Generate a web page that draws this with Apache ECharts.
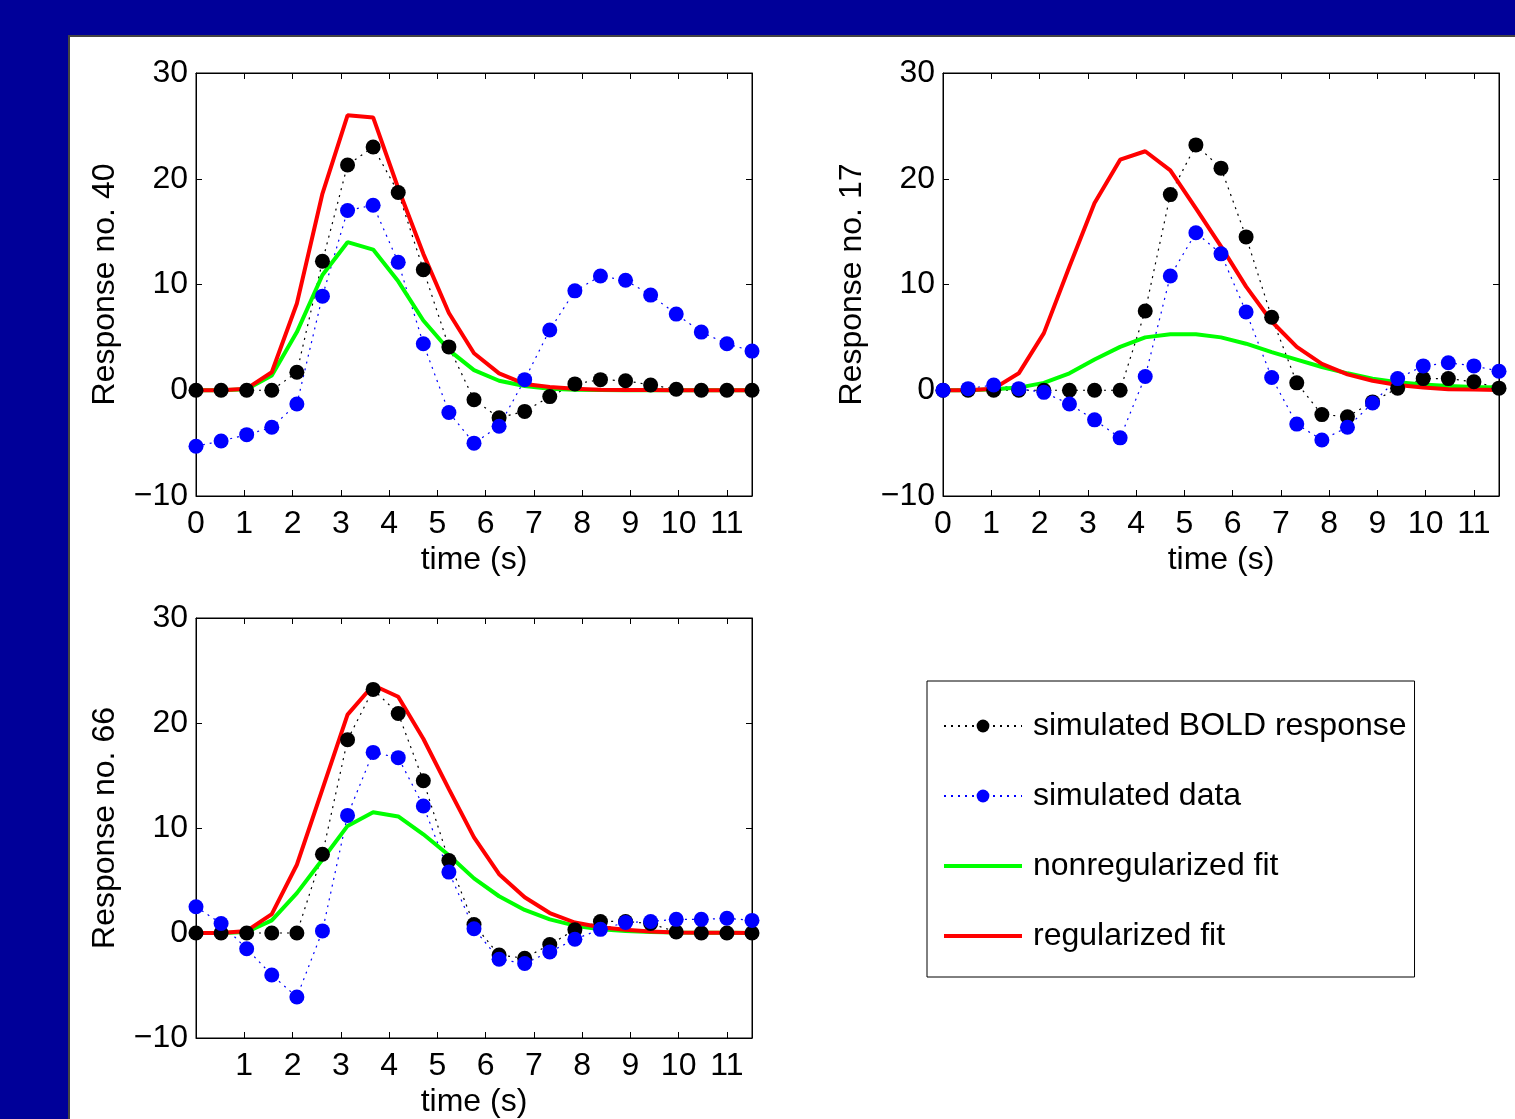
<!DOCTYPE html>
<html>
<head>
<meta charset="utf-8">
<script src="https://cdn.jsdelivr.net/npm/echarts@6/dist/echarts.min.js"></script>
<style>
  html, body { margin: 0; padding: 0; background: #000099; }
  #chart { width: 1515px; height: 1119px; }
</style>
</head>
<body>
<div id="chart"></div>
<script>
// sample times (s)
const timeSec = [0, 0.52, 1.05, 1.57, 2.09, 2.62, 3.14, 3.67, 4.19, 4.71, 5.24, 5.76,
  6.28, 6.81, 7.33, 7.85, 8.38, 8.9, 9.42, 9.95, 10.47, 11.0, 11.52]
const yTicks = [-10, 0, 10, 20, 30]
const seriesNames = ['simulated BOLD response', 'simulated data', 'nonregularized fit', 'regularized fit']

// Response no. 40
const bold40 = [0, 0, 0, 0, 1.7, 12.2, 21.3, 23.0, 18.7, 11.4, 4.1, -0.9, -2.6, -2.0, -0.6, 0.6, 1.0, 0.9, 0.5, 0.1, 0, 0, 0]
const data40 = [-5.3, -4.8, -4.2, -3.5, -1.3, 8.9, 17.0, 17.5, 12.1, 4.4, -2.1, -5.0, -3.4, 1.0, 5.7, 9.4, 10.8, 10.4, 9.0, 7.2, 5.5, 4.4, 3.7]
const nonreg40 = [0, 0, 0.1, 1.4, 5.5, 10.9, 14.0, 13.3, 10.3, 6.6, 3.8, 1.9, 0.9, 0.4, 0.15, 0.05, 0.02, 0, 0, 0, 0, 0, 0]
const reg40 = [0, 0, 0.15, 1.7, 8.2, 18.6, 26.0, 25.8, 19.1, 12.9, 7.3, 3.5, 1.6, 0.6, 0.3, 0.15, 0.05, 0.03, 0.02, 0.01, 0, 0, 0]

// Response no. 17
const bold17 = [0, 0, 0, 0, 0, 0, 0, 0, 7.5, 18.5, 23.2, 21.0, 14.5, 6.9, 0.7, -2.3, -2.5, -1.1, 0.2, 1.1, 1.1, 0.8, 0.2]
const data17 = [0, 0.15, 0.5, 0.15, -0.2, -1.3, -2.8, -4.5, 1.3, 10.8, 14.9, 12.9, 7.4, 1.2, -3.2, -4.7, -3.5, -1.2, 1.1, 2.3, 2.6, 2.3, 1.8]
const nonreg17 = [0, 0, 0.1, 0.25, 0.7, 1.6, 2.9, 4.1, 5.0, 5.3, 5.3, 5.0, 4.4, 3.6, 2.9, 2.2, 1.6, 1.1, 0.75, 0.55, 0.4, 0.3, 0.25]
const reg17 = [0, 0, 0.15, 1.6, 5.4, 11.7, 17.7, 21.8, 22.6, 20.8, 17.2, 13.6, 9.8, 6.5, 4.1, 2.5, 1.5, 0.9, 0.5, 0.25, 0.1, 0.06, 0.03]

// Response no. 66
const bold66 = [0, 0, 0, 0, 0, 7.5, 18.4, 23.2, 20.9, 14.5, 6.9, 0.8, -2.1, -2.4, -1.1, 0.3, 1.1, 1.1, 0.9, 0.1, 0, 0, 0]
const data66 = [2.5, 0.9, -1.5, -4.0, -6.1, 0.2, 11.2, 17.2, 16.7, 12.1, 5.8, 0.4, -2.5, -2.9, -1.8, -0.6, 0.35, 1.0, 1.1, 1.3, 1.3, 1.4, 1.2]
const nonreg66 = [0, 0, 0.1, 1.2, 3.8, 7.0, 10.2, 11.5, 11.1, 9.4, 7.4, 5.2, 3.5, 2.2, 1.3, 0.7, 0.35, 0.2, 0.1, 0.05, 0.03, 0.02, 0.01]
const reg66 = [0, 0, 0.2, 1.8, 6.5, 13.7, 20.8, 23.6, 22.5, 18.5, 13.7, 9.1, 5.6, 3.4, 1.9, 1.0, 0.55, 0.3, 0.15, 0.05, 0.03, 0.02, 0.01]

const FONT = 'Liberation Sans, Arial, Helvetica, sans-serif'
const FS = 32

const panels = [
  { title: 'Response no. 40', left: 196, top: 73, showZero: true, values: [bold40, data40, nonreg40, reg40] },
  { title: 'Response no. 17', left: 943, top: 73, showZero: true, values: [bold17, data17, nonreg17, reg17] },
  { title: 'Response no. 66', left: 196, top: 618, showZero: false, values: [bold66, data66, nonreg66, reg66] }
]

const pairs = (ys) => timeSec.map((t, i) => [t, ys[i]])
const minusFmt = (v) => (v < 0 ? '\u2212' + Math.abs(v) : String(v))

const grid = []
const xAxis = []
const yAxis = []
const series = []

panels.forEach((p, gi) => {
  grid.push({
    left: p.left, top: p.top, width: 556, height: 423,
    show: true, borderColor: '#000', borderWidth: 1, backgroundColor: '#fff'
  })
  // bottom x axis with labels
  xAxis.push({
    gridIndex: gi, type: 'value', min: 0, max: timeSec[timeSec.length - 1], interval: 1,
    position: 'bottom',
    name: 'time (s)', nameLocation: 'middle', nameGap: 48,
    nameTextStyle: { color: '#000', fontSize: FS, fontFamily: FONT },
    axisLine: { show: true, onZero: false, lineStyle: { color: '#000', width: 1 } },
    axisTick: { inside: true, length: 6, lineStyle: { color: '#000' } },
    axisLabel: {
      color: '#000', fontSize: FS, fontFamily: FONT, margin: 12,
      showMinLabel: p.showZero, showMaxLabel: false,
      formatter: (v) => (Number.isInteger(v) ? String(v) : '')
    },
    splitLine: { show: false }
  })
  // top x axis, ticks only
  xAxis.push({
    gridIndex: gi, type: 'value', min: 0, max: timeSec[timeSec.length - 1], interval: 1,
    position: 'top',
    axisLine: { show: true, onZero: false, lineStyle: { color: '#000', width: 1 } },
    axisTick: { inside: true, length: 6, lineStyle: { color: '#000' } },
    axisLabel: { show: false },
    splitLine: { show: false }
  })
  yAxis.push({
    gridIndex: gi, type: 'value', min: yTicks[0], max: yTicks[yTicks.length - 1], interval: 10,
    position: 'left',
    name: p.title, nameLocation: 'middle', nameGap: 75, nameRotate: 90,
    nameTextStyle: { color: '#000', fontSize: FS, fontFamily: FONT },
    axisLine: { show: true, onZero: false, lineStyle: { color: '#000', width: 1 } },
    axisTick: { inside: true, length: 6, lineStyle: { color: '#000' } },
    axisLabel: { color: '#000', fontSize: FS, fontFamily: FONT, margin: 8, formatter: minusFmt },
    splitLine: { show: false }
  })
  yAxis.push({
    gridIndex: gi, type: 'value', min: yTicks[0], max: yTicks[yTicks.length - 1], interval: 10,
    position: 'right',
    axisLine: { show: true, onZero: false, lineStyle: { color: '#000', width: 1 } },
    axisTick: { inside: true, length: 6, lineStyle: { color: '#000' } },
    axisLabel: { show: false },
    splitLine: { show: false }
  })

  const xi = gi * 2
  const yi = gi * 2
  series.push({
    name: seriesNames[0], type: 'line', xAxisIndex: xi, yAxisIndex: yi,
    data: pairs(p.values[0]),
    symbol: 'circle', symbolSize: 15, showSymbol: true,
    itemStyle: { color: '#000' },
    lineStyle: { color: '#000', width: 1.2, type: [2, 5] }
  })
  series.push({
    name: seriesNames[1], type: 'line', xAxisIndex: xi, yAxisIndex: yi,
    data: pairs(p.values[1]),
    symbol: 'circle', symbolSize: 15, showSymbol: true,
    itemStyle: { color: '#0000ff' },
    lineStyle: { color: '#0000ff', width: 1.2, type: [2, 5] }
  })
  series.push({
    name: seriesNames[2], type: 'line', xAxisIndex: xi, yAxisIndex: yi,
    data: pairs(p.values[2]),
    symbol: 'none',
    itemStyle: { color: '#00ff00' },
    lineStyle: { color: '#00ff00', width: 4 }
  })
  series.push({
    name: seriesNames[3], type: 'line', xAxisIndex: xi, yAxisIndex: yi,
    data: pairs(p.values[3]),
    symbol: 'none',
    itemStyle: { color: '#ff0000' },
    lineStyle: { color: '#ff0000', width: 4 }
  })
})

// flat bar icon for the fit lines in the legend
const barIcon = 'path://M0,0 L78,0 L78,4 L0,4 Z'

const chart = echarts.init(document.getElementById('chart'), null, { renderer: 'canvas' })
chart.setOption({
  animation: false,
  backgroundColor: '#000099',
  graphic: [
    {
      type: 'rect', left: 68, top: 35, z: -10,
      shape: { width: 1460, height: 1100 },
      style: { fill: '#fff', stroke: '#444', lineWidth: 2 }
    }
  ],
  grid,
  xAxis,
  yAxis,
  legend: {
    data: [
      { name: seriesNames[0] },
      { name: seriesNames[1] },
      { name: seriesNames[2], icon: barIcon },
      { name: seriesNames[3], icon: barIcon }
    ],
    orient: 'vertical',
    left: 927, top: 681,
    padding: [27, 8, 23, 16],
    itemWidth: 78, itemHeight: 16,
    itemGap: 34,
    symbolKeepAspect: true,
    backgroundColor: '#fff',
    borderColor: '#000', borderWidth: 1, borderRadius: 0,
    textStyle: { color: '#000', fontSize: FS, fontFamily: FONT, lineHeight: 36, padding: [0, 0, 0, 6] },
    selectedMode: false
  },
  series
})
</script>
</body>
</html>
